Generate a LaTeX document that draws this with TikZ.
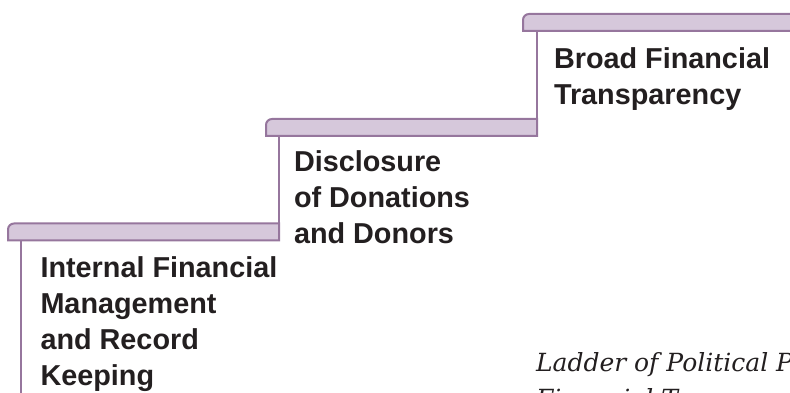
\documentclass[tikz,border=0pt]{standalone}
\usepackage{fontspec}
\usepackage{xcolor}
\usepackage{tikz}
\newfontfamily\stepfont{Liberation Sans}
\newfontfamily\capfont{DejaVu Serif}
\definecolor{ladderline}{RGB}{150,118,157}
\definecolor{ladderfill}{RGB}{214,200,219}
\definecolor{laddertext}{RGB}{35,31,32}
\tikzset{every picture/.style={x=1pt,y=1pt,every node/.style={inner sep=0pt,outer sep=0pt}},
  tread/.style={draw=ladderline, fill=ladderfill, line width=2pt},
  leg/.style={draw=ladderline, line width=2pt},
  steplabel/.style={anchor=north west, align=left, text=laddertext, font=\stepfont\bfseries\fontsize{28.8}{36}\selectfont},
  caplabel/.style={anchor=north west, align=left, text=laddertext, font=\capfont\itshape\fontsize{25}{36.5}\selectfont}}

\begin{document}
\begin{tikzpicture}
        \useasboundingbox (0,0) rectangle (790,393);
        \clip (0,0) rectangle (790,393);

        % treads of the ladder
        \foreach \x/\y/\r in {8/152.5/279, 266/257/537, 523/362/800}
        \draw[tread] (\x,\y) -- (\x,\y+11) arc[start angle=180, end angle=90, radius=6] -- (\r,\y+17) -- (\r,\y) -- cycle;

        \coordinate (s1) at (21,152.5);
        \coordinate (g1) at (21,0);
        \coordinate (s2) at (279,257);
        \coordinate (g2) at (279,169.5);
        \coordinate (s3) at (537,362);
        \coordinate (g3) at (537,273.5);

        \foreach \from/\to in {s1/g1, s2/g2, s3/g3}
        \draw[leg] (\from) -- (\to);

        \node[steplabel] (t1) at (40.5,136.5) {Internal Financial\\Management\\and Record\\Keeping};
        \node[steplabel] (t2) at (294,242) {Disclosure\\of Donations\\and Donors};
        \node[steplabel] (t3) at (554,345.5) {Broad Financial\\Transparency};

        \node[caplabel] (cap) at (536,40.5) {Ladder of Political P\\Financial T};
      \end{tikzpicture}
\end{document}
